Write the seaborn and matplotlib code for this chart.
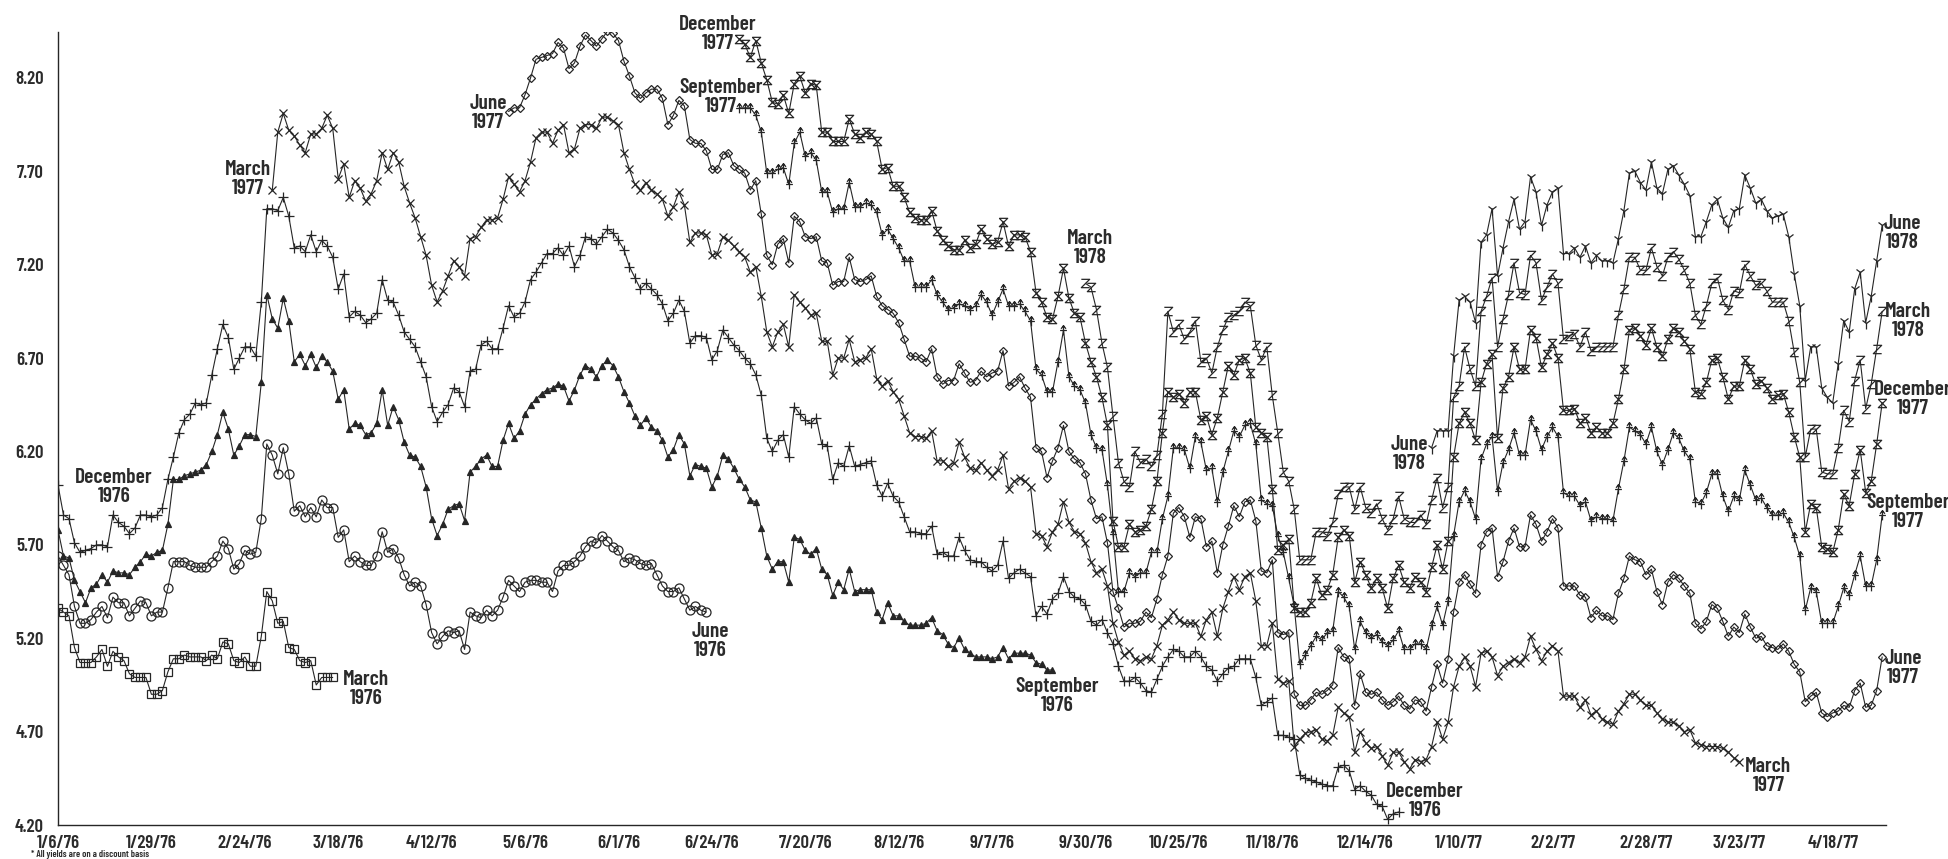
import numpy as np
import pandas as pd
import matplotlib
matplotlib.use("Agg")
import matplotlib.pyplot as plt
from matplotlib.path import Path
import seaborn as sns

# x axis is trading days since 1/6/76, one tick every 17 trading days
tick_labels = ['1/6/76', '1/29/76', '2/24/76', '3/18/76', '4/12/76', '5/6/76',
               '6/1/76', '6/24/76', '7/20/76', '8/12/76', '9/7/76', '9/30/76',
               '10/25/76', '11/18/76', '12/14/76', '1/10/77', '2/2/77',
               '2/28/77', '3/23/77', '4/18/77']
yield_ticks = [4.20, 4.70, 5.20, 5.70, 6.20, 6.70, 7.20, 7.70, 8.20]

# daily futures yields (percent, discount basis), first trading day of each contract
mar76_start = 0
mar76 = [5.36, 5.34, 5.32, 5.15, 5.07, 5.07, 5.07, 5.10, 5.14, 5.05,
         5.13, 5.10, 5.08, 5.01, 4.99, 4.99, 4.99, 4.90, 4.90, 4.92,
         5.02, 5.09, 5.09, 5.11, 5.10, 5.10, 5.10, 5.08, 5.11, 5.09,
         5.18, 5.17, 5.08, 5.07, 5.10, 5.05, 5.05, 5.21, 5.45, 5.40,
         5.28, 5.29, 5.15, 5.14, 5.08, 5.07, 5.08, 4.95, 4.99, 4.99,
         4.99]

jun76_start = 0
jun76 = [5.64, 5.59, 5.54, 5.37, 5.28, 5.28, 5.30, 5.34, 5.37, 5.31,
         5.42, 5.39, 5.39, 5.32, 5.36, 5.40, 5.39, 5.32, 5.34, 5.34,
         5.47, 5.61, 5.61, 5.61, 5.59, 5.58, 5.58, 5.58, 5.61, 5.64,
         5.72, 5.68, 5.57, 5.60, 5.67, 5.65, 5.66, 5.84, 6.24, 6.18,
         6.08, 6.22, 6.08, 5.88, 5.91, 5.85, 5.90, 5.85, 5.94, 5.90,
         5.90, 5.74, 5.78, 5.61, 5.64, 5.61, 5.59, 5.59, 5.64, 5.77,
         5.66, 5.68, 5.63, 5.54, 5.48, 5.50, 5.48, 5.38, 5.23, 5.17,
         5.21, 5.24, 5.23, 5.24, 5.14, 5.34, 5.32, 5.31, 5.35, 5.32,
         5.35, 5.42, 5.51, 5.48, 5.45, 5.50, 5.51, 5.51, 5.50, 5.50,
         5.45, 5.56, 5.59, 5.59, 5.61, 5.64, 5.69, 5.72, 5.71, 5.75,
         5.72, 5.69, 5.67, 5.61, 5.63, 5.62, 5.60, 5.59,
         5.60, 5.54, 5.48, 5.45, 5.45, 5.47, 5.41, 5.35, 5.37, 5.35, 5.34]

sep76_start = 0
sep76 = [5.78, 5.64, 5.63, 5.51, 5.45, 5.39, 5.47, 5.49, 5.54, 5.50,
         5.56, 5.55, 5.55, 5.54, 5.58, 5.61, 5.65, 5.64, 5.66, 5.67,
         5.81, 6.05, 6.05, 6.07, 6.08, 6.09, 6.10, 6.13, 6.20, 6.29,
         6.41, 6.32, 6.18, 6.23, 6.29, 6.29, 6.28, 6.57, 7.04, 6.91,
         6.86, 7.02, 6.90, 6.68, 6.72, 6.66, 6.72, 6.65, 6.71, 6.68,
         6.63, 6.48, 6.53, 6.32, 6.35, 6.34, 6.29, 6.30, 6.35, 6.53,
         6.34, 6.44, 6.37, 6.25, 6.18, 6.17, 6.12, 6.01, 5.84, 5.75,
         5.81, 5.89, 5.91, 5.92, 5.83, 6.09, 6.12, 6.16, 6.18, 6.12,
         6.12, 6.26, 6.35, 6.27, 6.31, 6.40, 6.45, 6.48, 6.51, 6.53,
         6.54, 6.56, 6.55, 6.47, 6.53, 6.61, 6.66, 6.64, 6.60, 6.66,
         6.69, 6.66, 6.60, 6.52, 6.46, 6.39, 6.34, 6.38,
         6.33, 6.31, 6.26, 6.17, 6.21, 6.29, 6.24, 6.07, 6.13, 6.12,
         6.11, 6.01, 6.07, 6.18, 6.16, 6.11, 6.05, 6.01, 5.94, 5.93,
         5.79, 5.64, 5.57, 5.61, 5.61, 5.50, 5.74, 5.73, 5.67, 5.65,
         5.68, 5.57, 5.54, 5.43, 5.50, 5.46, 5.57, 5.45, 5.46, 5.46,
         5.46, 5.34, 5.30, 5.39, 5.32, 5.32, 5.29, 5.27, 5.27, 5.27,
         5.28, 5.31, 5.24, 5.22, 5.17, 5.15, 5.20, 5.14, 5.12,
         5.10, 5.10, 5.10, 5.09, 5.10, 5.15, 5.09, 5.12, 5.12, 5.12,
         5.11, 5.07, 5.06, 5.03, 5.03]

dec76_start = 0
dec76 = [6.02, 5.86, 5.84, 5.71, 5.66, 5.67, 5.68, 5.70, 5.70, 5.69,
         5.86, 5.82, 5.80, 5.76, 5.79, 5.86, 5.86, 5.85, 5.86, 5.90,
         6.05, 6.17, 6.30, 6.37, 6.40, 6.46, 6.45, 6.46, 6.61, 6.75,
         6.88, 6.81, 6.64, 6.70, 6.76, 6.76, 6.71, 7.00, 7.50, 7.50,
         7.49, 7.56, 7.46, 7.29, 7.30, 7.27, 7.36, 7.27, 7.33, 7.30,
         7.24, 7.07, 7.15, 6.92, 6.95, 6.93, 6.89, 6.91, 6.94, 7.12,
         7.01, 7.00, 6.93, 6.84, 6.80, 6.76, 6.68, 6.60, 6.44, 6.36,
         6.41, 6.45, 6.54, 6.52, 6.44, 6.63, 6.64, 6.77, 6.79, 6.75,
         6.75, 6.86, 6.98, 6.92, 6.94, 7.00, 7.12, 7.16, 7.21, 7.26,
         7.26, 7.29, 7.25, 7.30, 7.19, 7.25, 7.35, 7.34, 7.31, 7.35,
         7.39, 7.37, 7.33, 7.28, 7.19, 7.13, 7.07, 7.10,
         7.07, 7.04, 6.99, 6.90, 6.94, 7.01, 6.95, 6.78, 6.82, 6.82,
         6.81, 6.69, 6.74, 6.85, 6.81, 6.77, 6.74, 6.70, 6.67, 6.61,
         6.50, 6.27, 6.20, 6.26, 6.29, 6.17, 6.44, 6.40, 6.37, 6.35,
         6.38, 6.24, 6.23, 6.05, 6.14, 6.12, 6.23, 6.12, 6.13, 6.14,
         6.15, 6.02, 5.96, 6.03, 5.96, 5.93, 5.85, 5.77, 5.77, 5.76,
         5.76, 5.80, 5.65, 5.66, 5.64, 5.64, 5.74, 5.67, 5.62,
         5.61, 5.61, 5.58, 5.56, 5.59, 5.72, 5.52, 5.55, 5.57, 5.55,
         5.53, 5.32, 5.37, 5.33, 5.41, 5.44, 5.53, 5.45, 5.42, 5.41,
         5.38, 5.29, 5.27, 5.30, 5.23, 5.17, 5.05, 4.97, 4.97, 4.99,
         4.96, 4.92, 4.91, 4.98, 5.05, 5.10, 5.14, 5.13, 5.10, 5.10,
         5.13, 5.10, 5.05, 5.03, 4.97, 5.01, 5.04, 5.05, 5.09, 5.09,
         5.09, 4.99, 4.84, 4.86, 4.88, 4.68, 4.68, 4.67,
         4.66, 4.47, 4.45, 4.44, 4.43, 4.42, 4.41, 4.41, 4.51, 4.52,
         4.49, 4.39, 4.41, 4.38, 4.36, 4.31, 4.30, 4.23, 4.26, 4.27]

mar77_start = 39
mar77 = [7.60, 7.91, 8.01, 7.92, 7.89, 7.84, 7.80, 7.90, 7.90, 7.93, 8.00,
         7.93, 7.66, 7.74, 7.56, 7.65, 7.61, 7.54, 7.58, 7.65, 7.80,
         7.71, 7.80, 7.75, 7.62, 7.53, 7.45, 7.35, 7.25, 7.09, 7.00,
         7.06, 7.14, 7.22, 7.19, 7.14, 7.34, 7.35, 7.40, 7.44, 7.44,
         7.45, 7.55, 7.67, 7.63, 7.59, 7.65, 7.75, 7.88, 7.91, 7.91,
         7.85, 7.92, 7.95, 7.80, 7.82, 7.93, 7.95, 7.95, 7.93, 7.99,
         7.99, 7.97, 7.95, 7.80, 7.71, 7.63, 7.60, 7.64,
         7.60, 7.58, 7.55, 7.46, 7.51, 7.59, 7.52, 7.32, 7.37, 7.37,
         7.36, 7.25, 7.26, 7.35, 7.33, 7.30, 7.27, 7.24, 7.16, 7.19,
         7.03, 6.84, 6.76, 6.84, 6.88, 6.76, 7.04, 7.00, 6.97, 6.93,
         6.94, 6.79, 6.79, 6.61, 6.70, 6.70, 6.80, 6.68, 6.69, 6.70,
         6.75, 6.59, 6.55, 6.58, 6.52, 6.48, 6.39, 6.30, 6.28, 6.28,
         6.27, 6.31, 6.15, 6.15, 6.12, 6.14, 6.25,
         6.17, 6.11, 6.10, 6.14, 6.10, 6.07, 6.10, 6.18, 6.00, 6.04,
         6.06, 6.04, 6.01, 5.76, 5.75, 5.69, 5.77, 5.81, 5.93, 5.82,
         5.77, 5.76, 5.71, 5.61, 5.55, 5.57, 5.48, 5.28, 5.18, 5.11,
         5.13, 5.09, 5.08, 5.10, 5.09, 5.16, 5.27, 5.30, 5.34, 5.30,
         5.28, 5.28, 5.28, 5.21, 5.30, 5.34, 5.21, 5.36, 5.45, 5.53,
         5.46, 5.53, 5.55, 5.40, 5.16, 5.16, 5.28, 4.98, 4.96, 4.97,
         4.62, 4.66, 4.69, 4.70, 4.71, 4.66, 4.65, 4.68, 4.83, 4.80,
         4.78, 4.59, 4.70, 4.64, 4.61, 4.62, 4.57, 4.52, 4.59, 4.59,
         4.54, 4.50, 4.55, 4.54, 4.55, 4.62, 4.75, 4.66, 4.75, 4.94,
         5.05, 5.10, 5.05, 4.94, 5.12, 5.13, 5.10, 5.00, 5.05, 5.07,
         5.09, 5.07, 5.10, 5.21, 5.14, 5.08, 5.13, 5.16, 5.13, 4.89,
         4.89, 4.89, 4.83, 4.87, 4.79, 4.81, 4.77, 4.75,
         4.74, 4.81, 4.85, 4.90, 4.90, 4.87, 4.84, 4.84, 4.80, 4.77,
         4.75, 4.75, 4.73, 4.70, 4.71, 4.64, 4.63, 4.62, 4.62, 4.62,
         4.61, 4.59, 4.56, 4.54]

jun77_start = 82
jun77 = [8.02, 8.04, 8.04, 8.11, 8.20, 8.30, 8.31, 8.32, 8.33, 8.39,
         8.36, 8.25, 8.28, 8.37, 8.43, 8.40, 8.37, 8.41, 8.45, 8.44,
         8.40, 8.29, 8.21, 8.12, 8.09, 8.12,
         8.14, 8.14, 8.09, 7.95, 8.00, 8.08, 8.05, 7.87, 7.85, 7.85,
         7.81, 7.71, 7.71, 7.79, 7.80, 7.73, 7.71, 7.69, 7.60, 7.65,
         7.47, 7.25, 7.20, 7.31, 7.34, 7.21, 7.46, 7.43, 7.35, 7.34,
         7.35, 7.22, 7.21, 7.09, 7.11, 7.11, 7.24, 7.12, 7.11, 7.12,
         7.14, 7.03, 6.98, 6.96, 6.94, 6.89, 6.80, 6.71, 6.71, 6.70,
         6.68, 6.75, 6.60, 6.56, 6.58, 6.58, 6.67, 6.62, 6.57,
         6.58, 6.63, 6.60, 6.62, 6.63, 6.74, 6.55, 6.57, 6.60, 6.54,
         6.49, 6.22, 6.20, 6.06, 6.15, 6.22, 6.34, 6.20, 6.16, 6.14,
         6.08, 5.94, 5.84, 5.85, 5.71, 5.45, 5.36, 5.26, 5.28, 5.28,
         5.29, 5.34, 5.31, 5.41, 5.54, 5.64, 5.87, 5.90, 5.85, 5.74,
         5.85, 5.84, 5.69, 5.72, 5.55, 5.70, 5.80, 5.91, 5.85, 5.93,
         5.94, 5.83, 5.56, 5.55, 5.62, 5.23, 5.22, 5.23,
         4.90, 4.84, 4.84, 4.87, 4.91, 4.90, 4.92, 4.95, 5.15, 5.10,
         5.09, 4.84, 5.01, 4.91, 4.90, 4.91, 4.87, 4.84, 4.86, 4.89,
         4.84, 4.82, 4.87, 4.86, 4.81, 4.94, 5.06, 4.96, 5.09, 5.34,
         5.50, 5.54, 5.49, 5.44, 5.70, 5.77, 5.79, 5.53, 5.61, 5.72,
         5.79, 5.69, 5.69, 5.86, 5.81, 5.72, 5.77, 5.84, 5.79, 5.48,
         5.48, 5.48, 5.43, 5.42, 5.31, 5.35, 5.32, 5.32,
         5.30, 5.44, 5.52, 5.64, 5.62, 5.61, 5.54, 5.57, 5.45, 5.38,
         5.50, 5.54, 5.52, 5.48, 5.44, 5.28, 5.25, 5.29, 5.38, 5.36,
         5.29, 5.21, 5.26, 5.23, 5.33, 5.26, 5.20, 5.21, 5.16, 5.15,
         5.14, 5.17, 5.13, 5.06, 5.02, 4.86, 4.89, 4.91, 4.80, 4.78,
         4.80, 4.81, 4.84, 4.83, 4.92, 4.96, 4.83, 4.84, 4.92, 5.10]

sep77_start = 124
sep77 = [8.04, 8.04, 8.04, 8.00, 7.91, 7.69, 7.69, 7.71, 7.72, 7.63,
         7.85, 7.91, 7.78, 7.80, 7.76, 7.59, 7.59, 7.48, 7.50, 7.50,
         7.64, 7.51, 7.51, 7.53, 7.52, 7.48, 7.36, 7.39, 7.34, 7.29,
         7.22, 7.22, 7.08, 7.08, 7.08, 7.12, 7.04, 7.00, 6.96, 6.97,
         6.99, 6.98,
         6.96, 6.98, 7.04, 7.00, 6.93, 7.00, 7.07, 6.98, 6.98, 6.99,
         6.95, 6.90, 6.64, 6.61, 6.52, 6.52, 6.68, 6.85, 6.60, 6.55,
         6.53, 6.46, 6.29, 6.22, 6.21, 6.02, 5.76, 5.45, 5.45, 5.55,
         5.53, 5.55, 5.55, 5.66, 5.66, 5.84, 5.96, 6.22, 6.22, 6.21,
         6.11, 6.28, 6.25, 6.10, 6.11, 5.93, 6.09, 6.20, 6.31, 6.28,
         6.34, 6.35, 6.24, 5.94, 5.92, 5.91, 5.75, 5.66,
         5.52, 5.37, 5.06, 5.11, 5.16, 5.21, 5.19, 5.23, 5.24, 5.45,
         5.42, 5.37, 5.14, 5.29, 5.23, 5.20, 5.22, 5.18, 5.16, 5.19,
         5.24, 5.14, 5.14, 5.17, 5.17, 5.14, 5.27, 5.37, 5.27, 5.40,
         5.75, 5.93, 5.99, 5.93, 5.84, 6.16, 6.24, 6.28, 5.99, 6.14,
         6.21, 6.30, 6.18, 6.18, 6.37, 6.31, 6.21, 6.28, 6.33, 6.28,
         5.98, 5.96, 5.96, 5.91, 5.93, 5.83, 5.85, 5.84, 5.84,
         5.83, 6.00, 6.15, 6.33, 6.31, 6.29, 6.24, 6.33, 6.20, 6.13,
         6.21, 6.30, 6.27, 6.20, 6.16, 5.93, 5.92, 5.98, 6.08, 6.08,
         5.96, 5.88, 5.96, 5.94, 6.10, 6.02, 5.94, 5.95, 5.90, 5.86,
         5.86, 5.87, 5.82, 5.74, 5.64, 5.35, 5.47, 5.45, 5.28, 5.28,
         5.28, 5.37, 5.47, 5.43, 5.54, 5.64, 5.48, 5.48, 5.62, 5.86]

dec77_start = 124
dec77 = [8.41, 8.38, 8.31, 8.40, 8.28, 8.19, 8.07, 8.06, 8.11, 8.01,
         8.17, 8.21, 8.12, 8.17, 8.16, 7.91, 7.91, 7.86, 7.86, 7.86,
         7.98, 7.90, 7.88, 7.91, 7.90, 7.86, 7.71, 7.72, 7.62, 7.62,
         7.56, 7.48, 7.45, 7.44, 7.44, 7.49, 7.38, 7.33, 7.30, 7.28,
         7.28, 7.33,
         7.29, 7.31, 7.39, 7.34, 7.31, 7.32, 7.43, 7.30, 7.36, 7.36,
         7.35, 7.27, 7.05, 7.00, 6.92, 6.91, 7.03, 7.18, 7.02, 6.94,
         6.92, 6.78, 6.68, 6.60, 6.49, 6.34, 5.83, 5.69, 5.69, 5.81,
         5.77, 5.78, 5.80, 5.89, 6.04, 6.30, 6.52, 6.49, 6.51, 6.46,
         6.52, 6.52, 6.37, 6.39, 6.29, 6.38, 6.52, 6.66, 6.61, 6.69,
         6.70, 6.62, 6.33, 6.30, 6.28,
         6.00, 5.67, 5.70, 5.73, 5.36, 5.34, 5.34, 5.39, 5.52, 5.43,
         5.46, 5.54, 5.74, 5.78, 5.75, 5.50, 5.61, 5.54, 5.47, 5.52,
         5.47, 5.36, 5.52, 5.59, 5.50, 5.47, 5.53, 5.50, 5.45, 5.58,
         5.70, 5.57, 5.72,
         6.17, 6.35, 6.41, 6.35, 6.26, 6.57, 6.67, 6.72, 6.27, 6.54,
         6.60, 6.76, 6.64, 6.64, 6.85, 6.81, 6.65, 6.72, 6.78, 6.70,
         6.42, 6.42, 6.43, 6.35, 6.38, 6.30, 6.33, 6.30, 6.30,
         6.35, 6.48, 6.64, 6.85, 6.86, 6.82, 6.77, 6.86, 6.76, 6.71,
         6.80, 6.86, 6.84, 6.79, 6.75, 6.52, 6.51, 6.57, 6.69, 6.70,
         6.60, 6.48, 6.55, 6.55, 6.69, 6.64, 6.56, 6.58, 6.54, 6.48,
         6.50, 6.51, 6.41, 6.28, 6.17, 5.77, 5.92, 5.90, 5.69, 5.68,
         5.66, 5.78, 5.97, 5.91, 6.08, 6.21, 5.98, 6.04, 6.24, 6.46]

mar78_start = 187
mar78 = [7.10, 7.08, 6.96, 6.78, 6.65, 6.39, 6.14, 6.04, 6.01, 6.20,
         6.14, 6.16, 6.12, 6.18, 6.40, 6.95, 6.84, 6.88, 6.80, 6.84,
         6.90, 6.68, 6.70, 6.62, 6.76, 6.85, 6.92, 6.93, 6.95, 7.00,
         6.98, 6.77, 6.69, 6.76,
         6.50, 6.30, 6.09, 6.04, 5.89, 5.62, 5.62, 5.62, 5.77, 5.77,
         5.75, 5.82, 5.97, 6.01, 6.01, 5.89, 6.01, 5.90, 5.87, 5.92,
         5.84, 5.78, 5.84, 5.96, 5.84, 5.82, 5.82, 5.86, 5.81, 5.94,
         6.06, 5.90, 6.01,
         6.49, 6.55, 6.76, 6.64, 6.55, 6.95, 7.03, 7.13, 6.76, 6.91,
         7.04, 7.21, 7.05, 7.04, 7.25, 7.21, 7.01, 7.08, 7.15, 7.10,
         6.80, 6.82, 6.83, 6.76, 6.84, 6.74, 6.76, 6.76, 6.76, 6.76,
         6.93, 7.07, 7.24, 7.24, 7.17, 7.17, 7.29, 7.19, 7.14, 7.24,
         7.27, 7.23, 7.17, 7.10, 6.93, 6.88, 6.98, 7.10, 7.13, 7.01,
         6.96, 7.06, 7.05, 7.20, 7.14, 7.09, 7.10, 7.06, 7.00, 7.00,
         7.00, 6.90, 6.73, 6.57, 6.17, 6.32, 6.32, 6.09, 6.08, 6.08,
         6.22, 6.42, 6.36, 6.58, 6.69, 6.43, 6.56, 6.75, 6.95]

jun78_start = 250
jun78 = [6.22, 6.31, 6.31, 6.31, 6.71, 7.01, 7.03, 7.00, 6.89, 7.32,
         7.36, 7.50, 7.14, 7.29, 7.43, 7.55, 7.39, 7.43, 7.67, 7.59,
         7.41, 7.52, 7.59, 7.61, 7.26, 7.26, 7.29, 7.24, 7.30, 7.21,
         7.25, 7.22, 7.22, 7.21,
         7.34, 7.49, 7.69, 7.70, 7.64, 7.60, 7.75, 7.61, 7.58, 7.71,
         7.73, 7.68, 7.63, 7.57, 7.35, 7.35, 7.43, 7.52, 7.55, 7.45,
         7.40, 7.49, 7.50, 7.68, 7.61, 7.53, 7.55, 7.49, 7.45, 7.46,
         7.47, 7.35, 7.15, 6.98, 6.58, 6.76, 6.76, 6.54, 6.49, 6.46,
         6.67, 6.90, 6.84, 7.07, 7.16, 6.89, 7.03, 7.22, 7.41]

# contract name labels: text, trading day (centre), yield (centre)
label_text = ['December\n1976', 'March\n1977', 'June\n1977', 'December\n1977',
              'September\n1977', 'June\n1976', 'March\n1976', 'September\n1976',
              'March\n1978', 'June\n1978', 'December\n1976', 'March\n1977',
              'June\n1978', 'March\n1978', 'December\n1977', 'September\n1977',
              'June\n1977']
label_day = [10.2, 34.6, 78.3, 120.1, 120.6, 118.7, 56.0, 181.8,
             187.8, 246.0, 248.8, 311.3, 335.6, 336.7, 337.5, 336.7, 335.8]
label_yld = [6.01, 7.66, 8.01, 8.435, 8.10, 5.185, 4.93, 4.89,
             7.29, 6.185, 4.33, 4.46, 7.37, 6.90, 6.48, 5.875, 5.04]

# marker shapes drawn on the original chart
hourglass = Path([(-1, 1), (1, 1), (-1, -1), (1, -1), (-1, 1)])
zee = Path([(-1, 1), (1, 1), (-1, -1), (1, -1)])
arrow = Path([(-0.7, 0), (0.7, 0), (0, -1), (0, 1), (-0.5, 0.35), (0, 1), (0.5, 0.35)],
             [Path.MOVETO, Path.LINETO, Path.MOVETO, Path.LINETO,
              Path.MOVETO, Path.LINETO, Path.LINETO])

ink = '#262626'
series = [
    (mar76_start, mar76, dict(marker='s', ms=5.5, mfc='none')),
    (jun76_start, jun76, dict(marker='o', ms=6.5, mfc='none')),
    (sep76_start, sep76, dict(marker='^', ms=4.5, mfc=ink)),
    (dec76_start, dec76, dict(marker='+', ms=7, mfc='none')),
    (mar77_start, mar77, dict(marker='x', ms=5.5, mfc='none')),
    (jun77_start, jun77, dict(marker='D', ms=4.2, mfc='none')),
    (sep77_start, sep77, dict(marker=arrow, ms=7, mfc='none')),
    (dec77_start, dec77, dict(marker=hourglass, ms=6, mfc='none')),
    (mar78_start, mar78, dict(marker=zee, ms=6, mfc='none')),
    (jun78_start, jun78, dict(marker='1', ms=8, mfc='none')),
]

sns.set_theme(style='white')
plt.rcParams['font.family'] = ['Barlow Condensed', 'Archivo Narrow', 'DejaVu Sans']

fig = plt.figure(figsize=(19.49, 8.59), dpi=100)
ax = fig.add_axes([0.02976, 0.03958, 0.93792, 0.92317])

for start, vals, style in series:
    df = pd.DataFrame({'day': np.arange(start, start + len(vals)), 'yld': vals})
    sns.lineplot(data=df, x='day', y='yld', ax=ax, color=ink, lw=0.8,
                 mec=ink, mew=0.9, estimator=None, sort=False, **style)

for txt, d, y in zip(label_text, label_day, label_yld):
    ax.text(d, y, txt, ha='center', va='center', multialignment='center',
            fontsize=15.5, fontweight=600, color='#2b2b2b', linespacing=1.0)

ax.set_xlim(0, 332.7)
ax.set_ylim(4.20, 8.446)
ax.set_xticks(np.arange(len(tick_labels)) * 17)
ax.set_xticklabels(tick_labels)
ax.set_yticks(yield_ticks)
ax.set_yticklabels([f'{v:.2f}' for v in yield_ticks])
ax.set_xlabel('')
ax.set_ylabel('')
ax.tick_params(axis='x', direction='out', length=5, width=1, color=ink,
               labelsize=13.5, labelcolor='#2b2b2b', pad=2)
ax.tick_params(axis='y', direction='out', length=7, width=1, color=ink,
               labelsize=13.5, labelcolor='#2b2b2b', pad=3)
for lab in ax.get_xticklabels() + ax.get_yticklabels():
    lab.set_fontweight(600)
sns.despine(ax=ax)
for side in ('left', 'bottom'):
    ax.spines[side].set_color(ink)
    ax.spines[side].set_linewidth(1.0)

# footnote squeezed into the strip under the date labels
fig.text(0.016, 0.0003, '* All yields are on a discount basis', ha='left', va='bottom',
         fontsize=7, fontweight=600, color='#2b2b2b')

fig.savefig('out.png', dpi=100)
